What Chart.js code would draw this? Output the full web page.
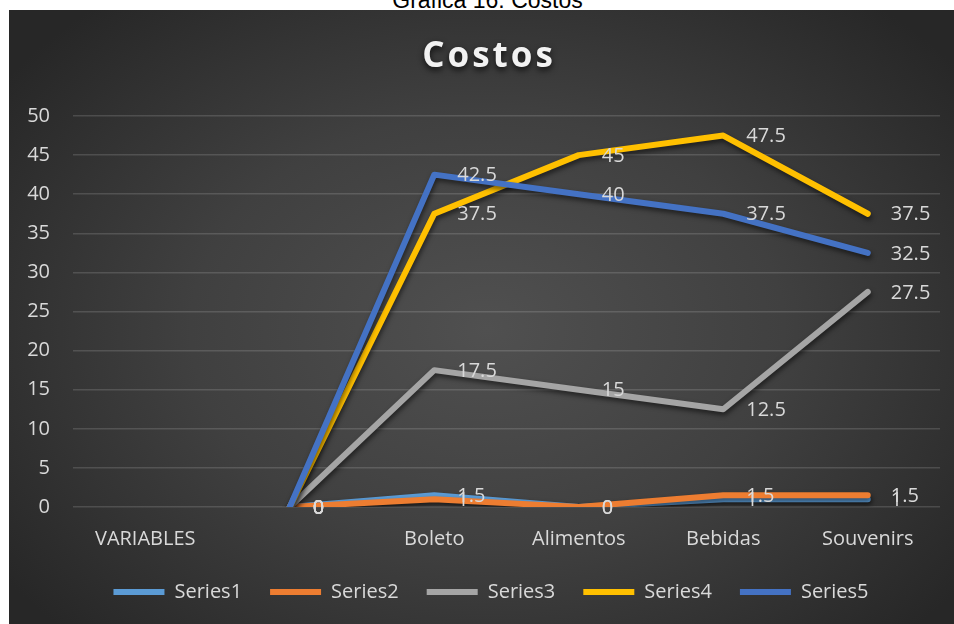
<!DOCTYPE html>
<html lang="es">
<head>
<meta charset="utf-8">
<title>Costos</title>
<script src="https://cdn.jsdelivr.net/npm/chart.js@4.4.1/dist/chart.umd.min.js"></script>
<style>
    html, body { margin: 0; padding: 0; width: 954px; height: 624px; overflow: hidden; background: #fff; }
    #pie {
        position: absolute; top: -12px; left: 0; width: 975px;
        text-align: center; color: #000;
        font: 23px "Liberation Sans", Arial, sans-serif; line-height: 24px;
    }
    #marco {
        position: absolute; left: 9px; top: 10px; width: 957px; height: 614px;
        background: radial-gradient(ellipse 62% 70% at 50% 52%, #505050 0%, #404040 50%, #272727 100%);
    }
    #grafica { display: block; }
</style>
</head>
<body>
<div id="pie">Gráfica 16: Costos</div>
<div id="marco"><canvas id="grafica" width="957" height="614"></canvas></div>

<script>
// Datos de la gráfica
const categorias = ["VARIABLES", "", "Boleto", "Alimentos", "Bebidas", "Souvenirs"];
const series1 = [null, 0, 1.5, 0, 1, 1];
const series2 = [null, 0, 1, 0, 1.5, 1.5];
const series3 = [null, 0, 17.5, 15, 12.5, 27.5];
const series4 = [null, 0, 37.5, 45, 47.5, 37.5];
const series5 = [null, 0, 42.5, 40, 37.5, 32.5];
const nombres = ["Series1", "Series2", "Series3", "Series4", "Series5"];
const colores = ["#5B9BD5", "#ED7D31", "#A5A5A5", "#FFC000", "#4472C4"];
const ejeY = { min: 0, max: 50, paso: 5 };

const textoGris = "#d9d9d9";
const fuente = { family: "'Open Sans', sans-serif", size: 20 };

// Sombra bajo cada línea
const sombraLineas = {
    id: "sombraLineas",
    beforeDatasetDraw(chart) {
        const ctx = chart.ctx;
        ctx.save();
        ctx.shadowColor = "rgba(0, 0, 0, 0.55)";
        ctx.shadowBlur = 5;
        ctx.shadowOffsetX = 1;
        ctx.shadowOffsetY = 3;
    },
    afterDatasetDraw(chart) {
        chart.ctx.restore();
    }
};

// Etiquetas con el valor a la derecha de cada punto
const etiquetasValor = {
    id: "etiquetasValor",
    afterDatasetsDraw(chart) {
        const ctx = chart.ctx;
        ctx.save();
        ctx.font = "20px 'Open Sans', sans-serif";
        ctx.fillStyle = textoGris;
        ctx.textAlign = "left";
        ctx.textBaseline = "middle";
        chart.data.datasets.forEach(function (ds, i) {
            chart.getDatasetMeta(i).data.forEach(function (pt, j) {
                const v = ds.data[j];
                if (v === null) return;
                ctx.fillText(String(v), pt.x + 23, pt.y + 1);
            });
        });
        ctx.restore();
    }
};

// Título con espaciado entre letras y sombra
const tituloCostos = {
    id: "tituloCostos",
    afterDraw(chart) {
        const ctx = chart.ctx;
        ctx.save();
        ctx.font = "bold 35px 'Open Sans', sans-serif";
        ctx.letterSpacing = "3px";
        ctx.fillStyle = "#f2f2f2";
        ctx.textAlign = "center";
        ctx.textBaseline = "alphabetic";
        ctx.shadowColor = "rgba(0, 0, 0, 0.75)";
        ctx.shadowBlur = 6;
        ctx.shadowOffsetY = 3;
        ctx.fillText("Costos", chart.width / 2 + 1.5, 57);
        ctx.restore();
    }
};

const valores = [series1, series2, series3, series4, series5];
const datasets = valores.map(function (data, i) {
    return {
        label: nombres[i],
        data: data,
        borderColor: colores[i],
        backgroundColor: colores[i],
        borderWidth: 6,
        borderJoinStyle: "round",
        borderCapStyle: "round",
        pointRadius: 0,
        tension: 0,
        order: valores.length - i
    };
});

new Chart(document.getElementById("grafica"), {
    type: "line",
    data: { labels: categorias, datasets: datasets },
    options: {
        responsive: false,
        animation: false,
        events: [],
        layout: { padding: { top: 106, left: 18, right: 11, bottom: 12 } },
        scales: {
            x: {
                offset: true,
                grid: { display: false, drawTicks: false },
                border: { display: false },
                ticks: { color: textoGris, font: fuente, padding: 20, maxRotation: 0 },
                afterFit(scale) { scale.height = 47; }
            },
            y: {
                min: ejeY.min,
                max: ejeY.max,
                grid: { color: "rgba(255, 255, 255, 0.14)", lineWidth: 1.5, drawTicks: false },
                border: { display: false },
                ticks: { stepSize: ejeY.paso, color: textoGris, font: fuente, padding: 23 },
                afterFit(scale) { scale.width = 46; }
            },
            // margen vacío a la derecha del área de trazado
            margenDer: {
                type: "linear",
                position: "right",
                grid: { display: false, drawTicks: false },
                border: { display: false },
                ticks: { display: false },
                afterFit(scale) { scale.width = 15; }
            }
        },
        plugins: {
            legend: {
                position: "bottom",
                labels: {
                    color: textoGris,
                    font: fuente,
                    usePointStyle: true,
                    pointStyle: "line",
                    pointStyleWidth: 51,
                    padding: 28,
                    sort: function (a, b) { return a.datasetIndex - b.datasetIndex; }
                }
            },
            tooltip: { enabled: false }
        }
    },
    plugins: [sombraLineas, etiquetasValor, tituloCostos]
});
</script>
</body>
</html>
